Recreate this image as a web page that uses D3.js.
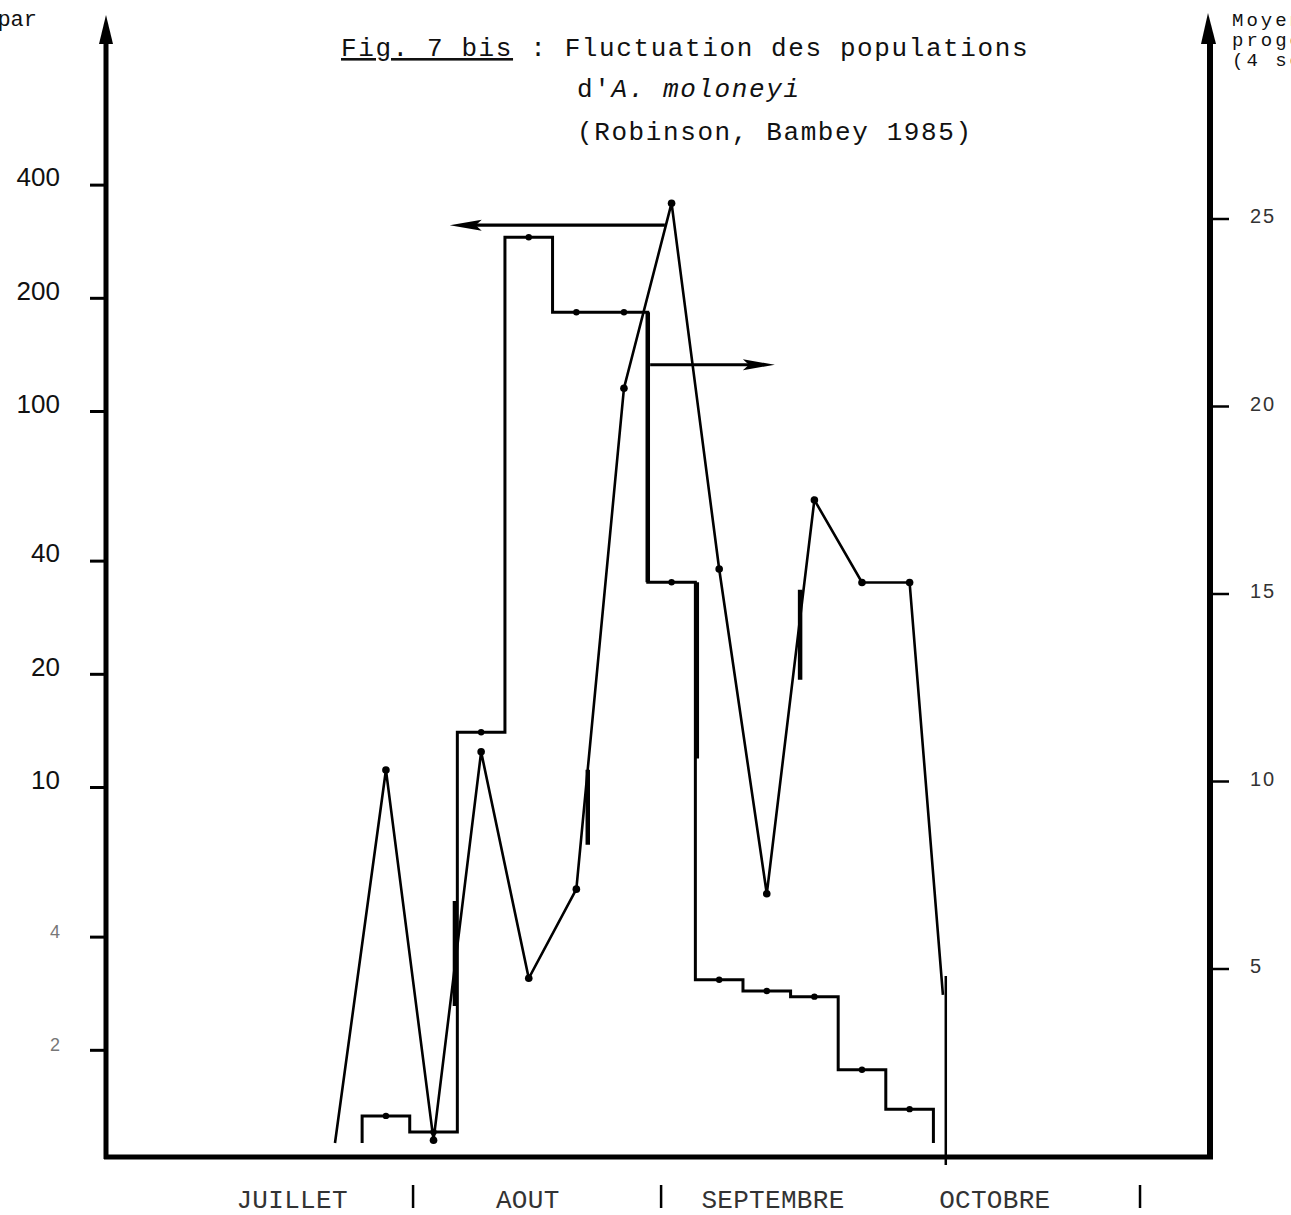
<!DOCTYPE html>
<html>
<head>
<meta charset="utf-8">
<script src="https://cdn.jsdelivr.net/npm/d3@7"></script>
<style>
  body { margin: 0; background: #fff; }
  svg { display: block; }
  .mono { font-family: "Liberation Mono", "DejaVu Sans Mono", monospace; }
  .num { font-family: "Liberation Sans", "DejaVu Sans", sans-serif; }
</style>
</head>
<body>
<div id="chart"></div>
<script>
// releves, one every ~6 days
var samples = [1, 2, 3, 4, 5, 6, 7, 8, 9, 10, 11, 12];
// step series (right axis, linear)
var moyenne = [1.07, 0.64, 11.3, 24.5, 22.5, 22.5, 15.3, 4.7, 4.4, 4.25, 2.3, 1.25];
var stepBase = 0.35;
// line series (left axis, log)
var population = [11.1, 1.15, 12.4, 3.1, 5.35, 115, 357, 38, 5.2, 58, 35, 35];
var lineStart = [-0.07, 1.13];
var lineEnd = [12.7, 2.8];

var leftTicks = [2, 4, 10, 20, 40, 100, 200, 400];
var rightTicks = [5, 10, 15, 20, 25];

var months = ["JUILLET", "AOUT", "SEPTEMBRE", "OCTOBRE"];
var monthCentres = [-0.97, 3.98, 9.13, 13.79];
var monthBreaks = [1.57, 6.78, 16.84];
var endMark = 12.76;

// pointers from each curve to its axis
var arrows = [
  { from: 6.86, to: 2.34, v: 312, axis: "left" },
  { from: 6.55, to: 9.17, v: 21.1, axis: "right" }
];

// heavier pen strokes (right axis units)
var strokes = [
  [2.45, 6.8, 4.0], [5.24, 10.3, 8.3], [7.53, 15.3, 10.6], [9.7, 15.1, 12.7], [6.5, 22.5, 15.3]
];

var W = 1291, H = 1215;
var left = 106, right = 1210, bottom = 1157;

var svg = d3.select("#chart").append("svg")
  .attr("width", W)
  .attr("height", H);

var x = d3.scaleLinear().domain([-4.88, 18.31]).range([left, right]);
var yL = d3.scaleLog().domain([1, 1000]).range([1163, 35]);
var yR = d3.scaleLinear().domain([0, 30]).range([1156, 31]);

// ---- axes ----
svg.append("line")
  .attr("x1", left).attr("x2", left)
  .attr("y1", bottom + 2).attr("y2", 40)
  .attr("stroke", "#000").attr("stroke-width", 5);
svg.append("polygon")
  .attr("points", [[left, 15], [left - 7, 44], [left + 7, 44]].join(" "))
  .attr("fill", "#000");

svg.append("line")
  .attr("x1", right).attr("x2", right)
  .attr("y1", bottom + 2).attr("y2", 38)
  .attr("stroke", "#000").attr("stroke-width", 6);
svg.append("polygon")
  .attr("points", [[right - 2, 13], [right - 9, 44], [right + 6, 44]].join(" "))
  .attr("fill", "#000");

svg.append("line")
  .attr("x1", left - 2).attr("x2", right + 3)
  .attr("y1", bottom).attr("y2", bottom)
  .attr("stroke", "#000").attr("stroke-width", 5);

var gl = svg.append("g")
  .attr("transform", "translate(" + (left - 1) + ",0)")
  .call(d3.axisLeft(yL).tickValues(leftTicks).tickSize(15).tickPadding(30)
    .tickFormat(d3.format("d")));
gl.select(".domain").remove();
gl.selectAll(".tick line").attr("stroke", "#000").attr("stroke-width", 3);
gl.selectAll(".tick text")
  .attr("class", "num")
  .attr("dy", "0.05em")
  .style("font-size", function(d) { return d < 10 ? "18px" : "26px"; })
  .attr("fill", function(d) { return d < 10 ? "#777" : "#111"; });

var gr = svg.append("g")
  .attr("transform", "translate(" + (right + 2) + ",0)")
  .call(d3.axisRight(yR).tickValues(rightTicks).tickSize(17).tickPadding(21));
gr.select(".domain").remove();
gr.selectAll(".tick line").attr("stroke", "#000").attr("stroke-width", 2.5);
gr.selectAll(".tick text")
  .attr("class", "num")
  .attr("dy", "0.2em")
  .style("font-size", "20px")
  .style("letter-spacing", "2px")
  .attr("fill", "#333");

// month breaks and labels
svg.selectAll("line.break")
  .data(monthBreaks)
  .enter().append("line")
  .attr("class", "break")
  .attr("x1", function(d) { return x(d); })
  .attr("x2", function(d) { return x(d); })
  .attr("y1", 1185).attr("y2", 1208)
  .attr("stroke", "#000").attr("stroke-width", 2.5);

svg.append("line")
  .attr("x1", x(endMark)).attr("x2", x(endMark))
  .attr("y1", yR(4.8)).attr("y2", bottom + 8)
  .attr("stroke", "#000").attr("stroke-width", 2.5);

svg.selectAll("text.month")
  .data(months)
  .enter().append("text")
  .attr("class", "month mono")
  .attr("x", function(d, i) { return x(monthCentres[i]); })
  .attr("y", 1208)
  .attr("text-anchor", "middle")
  .style("font-size", "26px")
  .style("letter-spacing", "0.3px")
  .attr("fill", "#333")
  .text(function(d) { return d; });

// ---- step series ----
var stepPts = [[samples[0] - 0.5, stepBase]];
moyenne.forEach(function(v, i) {
  stepPts.push([samples[i] - 0.5, v]);
  stepPts.push([samples[i] + 0.5, v]);
});
stepPts.push([samples[samples.length - 1] + 0.5, stepBase]);

svg.append("path")
  .datum(stepPts)
  .attr("fill", "none")
  .attr("stroke", "#000")
  .attr("stroke-width", 3)
  .attr("stroke-linejoin", "miter")
  .attr("d", d3.line()
    .x(function(d) { return x(d[0]); })
    .y(function(d) { return yR(d[1]); }));

svg.selectAll("circle.step")
  .data(moyenne)
  .enter().append("circle")
  .attr("class", "step")
  .attr("cx", function(d, i) { return x(samples[i]); })
  .attr("cy", function(d) { return yR(d); })
  .attr("r", 3.2)
  .attr("fill", "#000");

svg.selectAll("line.stroke")
  .data(strokes)
  .enter().append("line")
  .attr("class", "stroke")
  .attr("x1", function(d) { return x(d[0]); })
  .attr("x2", function(d) { return x(d[0]); })
  .attr("y1", function(d) { return yR(d[1]); })
  .attr("y2", function(d) { return yR(d[2]); })
  .attr("stroke", "#000")
  .attr("stroke-width", 4.5);

// ---- line series ----
var linePts = [lineStart];
population.forEach(function(v, i) { linePts.push([samples[i], v]); });
linePts.push(lineEnd);

svg.append("path")
  .datum(linePts)
  .attr("fill", "none")
  .attr("stroke", "#000")
  .attr("stroke-width", 2.6)
  .attr("d", d3.line()
    .x(function(d) { return x(d[0]); })
    .y(function(d) { return yL(d[1]); }));

svg.selectAll("circle.pop")
  .data(population)
  .enter().append("circle")
  .attr("class", "pop")
  .attr("cx", function(d, i) { return x(samples[i]); })
  .attr("cy", function(d) { return yL(d); })
  .attr("r", 3.8)
  .attr("fill", "#000");

// ---- pointers ----
arrows.forEach(function(a) {
  var yy = a.axis === "left" ? yL(a.v) : yR(a.v);
  var x0 = x(a.from), x1 = x(a.to);
  var dir = x1 > x0 ? 1 : -1;
  svg.append("line")
    .attr("x1", x0).attr("x2", x1 - dir * 20)
    .attr("y1", yy).attr("y2", yy)
    .attr("stroke", "#000").attr("stroke-width", 3.2);
  svg.append("polygon")
    .attr("points", [
      [x1, yy],
      [x1 - dir * 32, yy - 5.5],
      [x1 - dir * 26, yy],
      [x1 - dir * 32, yy + 5.5]
    ].join(" "))
    .attr("fill", "#000");
});

// ---- texts ----
var title = svg.append("g").attr("class", "mono")
  .style("font-size", "26px")
  .style("letter-spacing", "1.6px")
  .attr("fill", "#111");

var t1 = title.append("text").attr("x", 341).attr("y", 56);
t1.append("tspan").style("text-decoration", "underline").text("Fig. 7 bis");
t1.append("tspan").text(" : Fluctuation des populations");

var t2 = title.append("text").attr("x", 577).attr("y", 97);
t2.append("tspan").text("d'");
t2.append("tspan").style("font-style", "italic").text("A. moloneyi");

title.append("text").attr("x", 577).attr("y", 140).text("(Robinson, Bambey 1985)");

svg.append("text")
  .attr("class", "mono")
  .attr("x", 37).attr("y", 26)
  .attr("text-anchor", "end")
  .style("font-size", "22px")
  .attr("fill", "#111")
  .text("par");

var rlab = svg.append("text")
  .attr("class", "mono")
  .style("font-size", "19px")
  .style("letter-spacing", "3px")
  .attr("fill", "#111");
["Moyenne", "progéniture", "(4 semaines)"].forEach(function(s, i) {
  rlab.append("tspan").attr("x", 1232).attr("y", 26 + i * 20).text(s);
});
</script>
</body>
</html>
